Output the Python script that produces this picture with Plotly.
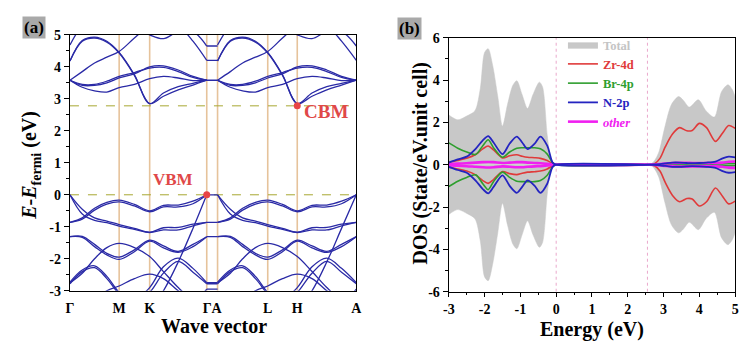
import plotly.graph_objects as go

# ---------------- Band structure data (panel a) ----------------
kpath_pos = [0.0, 1.0, 1.62, 2.78, 3.0, 4.02, 4.62, 5.82]
tick_labels = ["Γ", "M", "K", "ΓA", "L", "H", "A"]
tick_pos = [0.0, 1.0, 1.62, 2.89, 4.02, 4.62, 5.82]

# sample k points along Γ-M-K-Γ and along A-L-H-A
k_GMKG = [0.0, 0.25, 0.5, 0.75, 1.0, 1.31, 1.62, 1.9, 2.2, 2.5, 2.78]
k_ALHA = [3.0, 3.26, 3.51, 3.77, 4.02, 4.32, 4.62, 4.92, 5.22, 5.52, 5.82]
k_GA = [2.78, 3.0]

# conduction bands (eV), read along the sample k points
cb1 = [4.68, 5.3, 5.6, 5.6, 5.5, 5.25, 5.0, 4.88, 5.1, 5.1, 4.65]
cb2 = [4.18, 4.82, 4.93, 4.8, 4.45, 3.75, 2.85, 3.18, 3.38, 3.48, 3.58]
cb3 = [4.18, 4.8, 4.9, 4.77, 4.43, 3.73, 2.85, 3.08, 3.28, 3.43, 3.58]
cb4 = [3.58, 3.85, 4.12, 4.3, 4.48, 4.9, 5.3, 5.5, 5.3, 4.8, 4.2]
cb5 = [3.58, 3.36, 3.25, 3.21, 3.35, 3.45, 3.63, 3.7, 3.65, 3.57, 3.58]
cb6 = [3.58, 3.42, 3.42, 3.5, 3.65, 3.78, 4.0, 4.03, 3.9, 3.7, 3.58]
cb7 = [3.58, 3.45, 3.45, 3.55, 3.7, 3.82, 3.96, 3.98, 3.85, 3.67, 3.58]

# valence bands (eV)
vb1 = [-0.86, -0.72, -0.42, -0.24, -0.17, -0.3, -0.50, -0.33, -0.32, -0.2, 0.0]
vb2 = [-0.86, -0.76, -0.48, -0.29, -0.22, -0.35, -0.53, -0.38, -0.38, -0.28, 0.0]
vb3 = [0.0, -0.45, -0.72, -0.82, -0.93, -1.05, -1.17, -1.03, -1.02, -0.92, -0.86]
vb4 = [0.0, -0.6, -0.8, -0.87, -0.98, -1.08, -1.18, -1.1, -1.1, -0.97, -0.86]
vb5 = [-1.31, -1.3, -1.55, -1.83, -1.95, -1.72, -1.42, -1.6, -1.77, -1.55, -1.31]
vb6 = [-1.31, -1.33, -1.62, -1.88, -2.02, -1.78, -1.45, -1.66, -1.8, -1.62, -1.31]
vb7 = [-2.75, -2.45, -2.0, -1.65, -1.52, -1.65, -1.93, -2.4, -2.9, -3.3, -3.5]
vb8 = [-3.6, -3.5, -3.4, -3.5, -3.6, -3.6, -3.6, -3.0, -2.1, -1.05, 0.0]
vb9 = [-2.73, -2.35, -2.22, -2.55, -3.05, -3.4, -3.5, -3.5, -3.5, -3.4, -3.3]
vb10 = [-2.78, -2.4, -2.28, -2.62, -3.1, -3.45, -3.55, -3.55, -3.5, -3.4, -3.3]
vb11 = [-3.5, -3.4, -3.3, -3.0, -2.85, -2.62, -2.48, -2.62, -3.0, -3.3, -2.95]
vb12 = [-3.5, -3.5, -3.5, -3.5, -3.5, -3.3, -2.9, -2.25, -1.98, -2.3, -2.75]
vb13 = [-3.5, -3.5, -3.5, -3.5, -3.5, -3.4, -3.05, -2.45, -2.08, -2.42, -2.78]

bands = [cb1, cb2, cb3, cb4, cb5, cb6, cb7,
         vb1, vb2, vb3, vb4, vb5, vb6, vb7, vb8, vb9, vb10, vb11, vb12, vb13]

# nearly flat bands along Γ-A
flat_GA = [4.65, 4.2, 3.58, 0.0, -0.86, -1.31, -2.75, -2.78, -2.95]

e_vbm = 0.0
e_cbm = 2.78
k_vbm = 2.78
k_cbm = 4.62

# ---------------- DOS data (panel b) ----------------
E_tot = [-3.0, -2.75, -2.5, -2.27, -2.12, -2.0, -1.9, -1.77, -1.63, -1.5, -1.36,
         -1.21, -1.1, -0.95, -0.8, -0.65, -0.47, -0.38, -0.25, -0.15, -0.05, 0.0,
         2.55, 2.65, 2.75, 2.87, 3.04, 3.22, 3.42, 3.55, 3.72, 3.97, 4.19, 4.42,
         4.62, 4.8, 4.92, 5.0]
dos_total = [2.35, 2.12, 2.3, 2.55, 3.6, 5.3, 5.48, 4.65, 3.2, 1.82, 2.84,
             3.75, 3.97, 3.3, 2.65, 3.3, 3.9, 3.67, 1.4, 0.3, 0.0, 0.0,
             0.0, 0.03, 0.2, 0.6, 1.8, 2.84, 3.22, 3.05, 2.72, 3.07, 2.54, 2.25,
             3.45, 3.78, 3.55, 3.2]

E_p = [-3.0, -2.75, -2.5, -2.25, -2.05, -1.9, -1.75, -1.5, -1.3, -1.1, -0.95, -0.8,
       -0.6, -0.44, -0.25, -0.1, 0.0, 2.6, 2.75, 2.9, 3.05, 3.25, 3.45, 3.65, 3.8,
       4.0, 4.2, 4.45, 4.65, 4.82, 5.0]
dos_zr4d = [0.12, 0.2, 0.3, 0.48, 0.75, 0.88, 0.7, 0.32, 0.42, 0.47, 0.4, 0.35,
            0.33, 0.3, 0.2, 0.05, 0.0, 0.0, 0.05, 0.3, 0.85, 1.45, 1.75, 1.6, 1.62,
            1.95, 1.75, 1.1, 1.5, 1.85, 1.72]
dos_br4p = [1.03, 0.78, 0.6, 0.48, 0.9, 1.18, 0.8, 0.35, 0.6, 0.78, 0.8, 0.8,
            0.8, 0.75, 0.5, 0.1, 0.0, 0.0, 0.0, 0.01, 0.02, 0.03, 0.03, 0.03, 0.03,
            0.03, 0.03, 0.03, 0.04, 0.05, 0.05]
dos_n2p = [0.1, 0.25, 0.38, 0.75, 1.15, 1.35, 1.05, 0.5, 1.0, 1.33, 1.05, 0.74,
           1.0, 1.33, 0.9, 0.1, 0.0, 0.0, 0.01, 0.03, 0.06, 0.1, 0.1, 0.08, 0.07,
           0.08, 0.1, 0.15, 0.3, 0.38, 0.35]
dos_other = [0.03, 0.05, 0.07, 0.1, 0.12, 0.13, 0.12, 0.08, 0.1, 0.12, 0.12, 0.1,
             0.08, 0.07, 0.04, 0.01, 0.0, 0.0, 0.01, 0.03, 0.06, 0.08, 0.09, 0.09, 0.08,
             0.08, 0.08, 0.08, 0.1, 0.14, 0.15]

gap_lines = [0.0, 2.55]

# ---------------- styling ----------------
FONT = "Times New Roman, Liberation Serif, serif"
BAND_COLOR = "#2a2aa6"
VLINE_COLOR = "#e6c39b"
DASH_COLOR = "#a8a832"
C_TOTAL = "#c8c8c8"
C_ZR = "#e03a3a"
C_BR = "#2e9e2e"
C_N = "#2424c0"
C_OTHER = "#f020f0"

fig = go.Figure()

# high-symmetry vertical lines
for kv in kpath_pos[1:-1]:
    fig.add_trace(go.Scatter(x=[kv, kv], y=[-3, 5], mode="lines",
                             line=dict(color=VLINE_COLOR, width=1.6),
                             showlegend=False, hoverinfo="skip", xaxis="x", yaxis="y"))

# Fermi / CBM dashed lines
for ev in [e_vbm, e_cbm]:
    fig.add_trace(go.Scatter(x=[kpath_pos[0], kpath_pos[-1]], y=[ev, ev], mode="lines",
                             line=dict(color=DASH_COLOR, width=1, dash="dash"),
                             showlegend=False, hoverinfo="skip", xaxis="x", yaxis="y"))

# bands
for b in bands:
    xs = k_GMKG + [None] + k_ALHA
    ys = b + [None] + b
    fig.add_trace(go.Scatter(x=xs, y=ys, mode="lines",
                             line=dict(color=BAND_COLOR, width=1.3, shape="spline", smoothing=1.0),
                             showlegend=False, hoverinfo="skip", xaxis="x", yaxis="y"))
xs, ys = [], []
for ev in flat_GA:
    xs += k_GA + [None]
    ys += [ev, ev, None]
fig.add_trace(go.Scatter(x=xs, y=ys, mode="lines", line=dict(color=BAND_COLOR, width=1.3),
                         showlegend=False, hoverinfo="skip", xaxis="x", yaxis="y"))

# VBM / CBM markers
fig.add_trace(go.Scatter(x=[k_vbm, k_cbm], y=[e_vbm, e_cbm], mode="markers",
                         marker=dict(color="#e84545", size=7),
                         showlegend=False, hoverinfo="skip", xaxis="x", yaxis="y"))

# ---- DOS panel ----
fig.add_trace(go.Scatter(x=E_tot, y=dos_total, mode="lines", fill="tozeroy",
                         fillcolor=C_TOTAL, line=dict(color=C_TOTAL, width=0.5, shape="spline", smoothing=0.8),
                         name="<span style='color:#c4c4c4'>Total</span>", legendrank=1,
                         xaxis="x2", yaxis="y2"))
fig.add_trace(go.Scatter(x=E_tot, y=[-v for v in dos_total], mode="lines", fill="tozeroy",
                         fillcolor=C_TOTAL, line=dict(color=C_TOTAL, width=0.5, shape="spline", smoothing=0.8),
                         showlegend=False, xaxis="x2", yaxis="y2"))

for gl in gap_lines:
    fig.add_trace(go.Scatter(x=[gl, gl], y=[-6, 6], mode="lines",
                             line=dict(color="#eaa8cc", width=1, dash="dot"),
                             showlegend=False, hoverinfo="skip", xaxis="x2", yaxis="y2"))

pdos = [
    (dos_zr4d, C_ZR, f"<span style='color:{C_ZR}'>Zr-4d</span>", 1.6, 2),
    (dos_br4p, C_BR, f"<span style='color:{C_BR}'>Br-4p</span>", 1.6, 3),
    (dos_other, C_OTHER, f"<span style='color:{C_OTHER}'><i>other</i></span>", 2.6, 5),
    (dos_n2p, C_N, f"<span style='color:{C_N}'>N-2p</span>", 1.8, 4),
]
for vals, col, nm, w, rank in pdos:
    fig.add_trace(go.Scatter(x=E_p, y=vals, mode="lines", name=nm, legendrank=rank,
                             line=dict(color=col, width=w, shape="spline", smoothing=0.8),
                             xaxis="x2", yaxis="y2"))
    fig.add_trace(go.Scatter(x=E_p, y=[-v for v in vals], mode="lines", showlegend=False,
                             line=dict(color=col, width=w, shape="spline", smoothing=0.8),
                             xaxis="x2", yaxis="y2"))

W, H = 750, 363
def px(x):
    return x / W
def py(y):
    return 1 - y / H

tickfont = dict(family=FONT, size=14, color="black", weight="bold")
axis_common = dict(showline=True, linecolor="black", linewidth=1.3, mirror=True,
                   showgrid=False, zeroline=False, tickfont=tickfont, tickangle=0)

fig.update_layout(
    width=W, height=H, margin=dict(l=0, r=0, t=0, b=0),
    paper_bgcolor="white", plot_bgcolor="white",
    font=dict(family=FONT, color="black"),
    xaxis=dict(domain=[px(65), px(356)], range=[kpath_pos[0], kpath_pos[-1]],
               tickvals=tick_pos, ticktext=tick_labels, ticks="outside", ticklen=4,
               tickcolor="rgba(0,0,0,0)", anchor="y", **axis_common),
    yaxis=dict(domain=[py(296), py(29)], range=[-3, 5],
               tickvals=[5, 4, 3, 2, 1, 0, -1, -2, -3],
               ticktext=["5", "4", "3", "2", "1", "0", "-1", "-2", "-3"],
               ticks="outside", ticklen=5, tickwidth=1.2, tickcolor="black",
               minor=dict(ticks="outside", ticklen=3, dtick=0.5, tickcolor="black"),
               anchor="x", **axis_common),
    xaxis2=dict(domain=[px(450), px(741)], range=[-3, 5],
                tickvals=[-3, -2, -1, 0, 1, 2, 3, 4, 5],
                ticktext=["-3", "-2", "-1", "0", "1", "2", "3", "4", "5"],
                ticks="outside", ticklen=4, tickwidth=1.2, tickcolor="black",
                minor=dict(ticks="outside", ticklen=2, dtick=0.5, tickcolor="black"),
                anchor="y2", **axis_common),
    yaxis2=dict(domain=[py(297), py(32)], range=[-6, 6],
                tickvals=[6, 4, 2, 0, -2, -4, -6],
                ticktext=["6", "4", "2", "0", "-2", "-4", "-6"],
                ticks="outside", ticklen=5, tickwidth=1.2, tickcolor="black",
                minor=dict(ticks="outside", ticklen=3, dtick=1, tickcolor="black"),
                anchor="x2", **axis_common),
    legend=dict(x=px(566), y=py(24), xanchor="left", yanchor="top",
                bgcolor="rgba(0,0,0,0)", borderwidth=0, itemwidth=30,
                font=dict(family=FONT, size=12.5, weight="bold"), tracegroupgap=0),
    showlegend=True,
)

title_font = dict(family=FONT, size=20, color="black", weight="bold")
ann = [
    dict(text="Wave vector", x=px(211), y=py(333), font=title_font),
    dict(text="Energy (eV)", x=px(596), y=py(336), font=title_font),
    dict(text="<i>E</i>-<i>E</i><sub>fermi</sub> (eV)", x=px(25), y=py(165),
         textangle=-90, font=title_font),
    dict(text="DOS (State/eV.unit cell)", x=px(421), y=py(163), textangle=-90,
         font=title_font),
    dict(text="(a)", x=px(28), y=py(21), bgcolor="#a9a9a9", borderpad=1,
         font=dict(family=FONT, size=17, color="black", weight="bold")),
    dict(text="(b)", x=px(410), y=py(22), bgcolor="#a9a9a9", borderpad=1,
         font=dict(family=FONT, size=17, color="black", weight="bold")),
]
for a in ann:
    a.update(xref="paper", yref="paper", showarrow=False, xanchor="center", yanchor="middle")
    fig.add_annotation(**a)

fig.add_annotation(text="VBM", x=2.1, y=0.48, xref="x", yref="y", showarrow=False,
                   font=dict(family=FONT, size=17, color="#e04848", weight="bold"))
fig.add_annotation(text="CBM", x=5.2, y=2.6, xref="x", yref="y", showarrow=False,
                   font=dict(family=FONT, size=19, color="#e04848", weight="bold"))

fig.write_html("out.html", config={"displayModeBar": False},
               post_script="document.body.style.margin='0';document.body.style.overflow='hidden';")
